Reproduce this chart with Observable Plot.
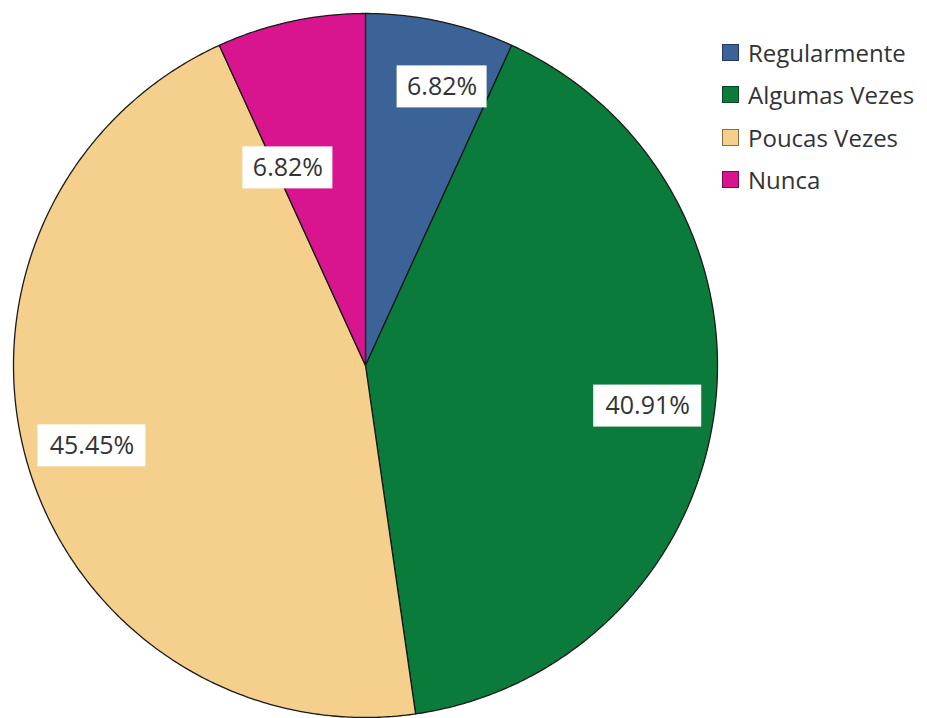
<!DOCTYPE html>
<html>
<head>
<meta charset="utf-8">
<script src="https://cdn.jsdelivr.net/npm/d3@7"></script>
<script src="https://cdn.jsdelivr.net/npm/@observablehq/plot@0.6"></script>
<style>
  html, body { margin: 0; padding: 0; background: #fff; }
  #wrap { position: relative; width: 927px; height: 718px; }
  #legend { position: absolute; left: 722px; top: 31px; font-family: "Open Sans", sans-serif; font-size: 24px; color: #333; }
  .row { display: flex; align-items: center; height: 42.5px; margin-top: 0; }
  .sw { width: 15px; height: 15px; border: 1.5px solid; margin-right: 9px; box-sizing: content-box; }
</style>
</head>
<body>
<div id="wrap"><div id="chart"></div><div id="legend"></div></div>
<script>
const categories = ["Regularmente", "Algumas Vezes", "Poucas Vezes", "Nunca"];
const counts = [3, 18, 20, 3];
const percentLabels = ["6.82%", "40.91%", "45.45%", "6.82%"];
const colors = ["#3c6397", "#0b7b3c", "#f4d08c", "#d8148e"];
const borderColors = ["#1f3a5f", "#05451f", "#8a7040", "#7a0a50"];

// label placement tweaks (pixels, +y = down)
const R = 352;
const labelRadius = 0.81;
const nudge = {"Regularmente": [16, 0], "Nunca": [-17, 81]};

const total = d3.sum(counts);
let acc = 0;
const slices = categories.map((c, i) => {
  const a0 = acc / total * 2 * Math.PI;
  acc += counts[i];
  const a1 = acc / total * 2 * Math.PI;
  return {cat: c, a0, a1, label: percentLabels[i]};
});

const pts = [];
for (const s of slices) {
  pts.push({cat: s.cat, x: 0, y: 0});
  const n = Math.max(2, Math.ceil((s.a1 - s.a0) / (Math.PI / 360)));
  for (let k = 0; k <= n; k++) {
    const a = s.a0 + (s.a1 - s.a0) * k / n;
    pts.push({cat: s.cat, x: Math.sin(a), y: Math.cos(a)});
  }
  pts.push({cat: s.cat, x: 0, y: 0});
}

const labels = slices.map(s => {
  const m = (s.a0 + s.a1) / 2;
  const [nx, ny] = nudge[s.cat] || [0, 0];
  const x = labelRadius * Math.sin(m) + nx / R;
  const y = labelRadius * Math.cos(m) - ny / R;
  const hw = (18 * s.label.length) / 2 / R;
  const hh = 21 / R;
  return {cat: s.cat, text: s.label, x, y, x1: x - hw, x2: x + hw, y1: y - hh, y2: y + hh};
});

const chart = Plot.plot({
  width: 927,
  height: 718,
  marginLeft: 13,
  marginRight: 210,
  marginTop: 13,
  marginBottom: 1,
  x: {domain: [-1, 1], axis: null},
  y: {domain: [-1, 1], axis: null},
  color: {domain: categories, range: colors},
  marks: [
    Plot.line(pts, {x: "x", y: "y", z: "cat", fill: "cat", stroke: "#1a1a1a", strokeWidth: 1.3, strokeLinejoin: "round"}),
    Plot.rect(labels, {x1: "x1", x2: "x2", y1: "y1", y2: "y2", fill: "white"}),
    Plot.text(labels, {x: "x", y: "y", text: "text", fontSize: 25, fill: "#333", fontFamily: "Open Sans"})
  ]
});
document.getElementById("chart").appendChild(chart);

const legend = document.getElementById("legend");
categories.forEach((c, i) => {
  const row = document.createElement("div");
  row.className = "row";
  const sw = document.createElement("div");
  sw.className = "sw";
  sw.style.background = colors[i];
  sw.style.borderColor = borderColors[i];
  const t = document.createElement("span");
  t.textContent = c;
  row.appendChild(sw);
  row.appendChild(t);
  legend.appendChild(row);
});
</script>
</body>
</html>
